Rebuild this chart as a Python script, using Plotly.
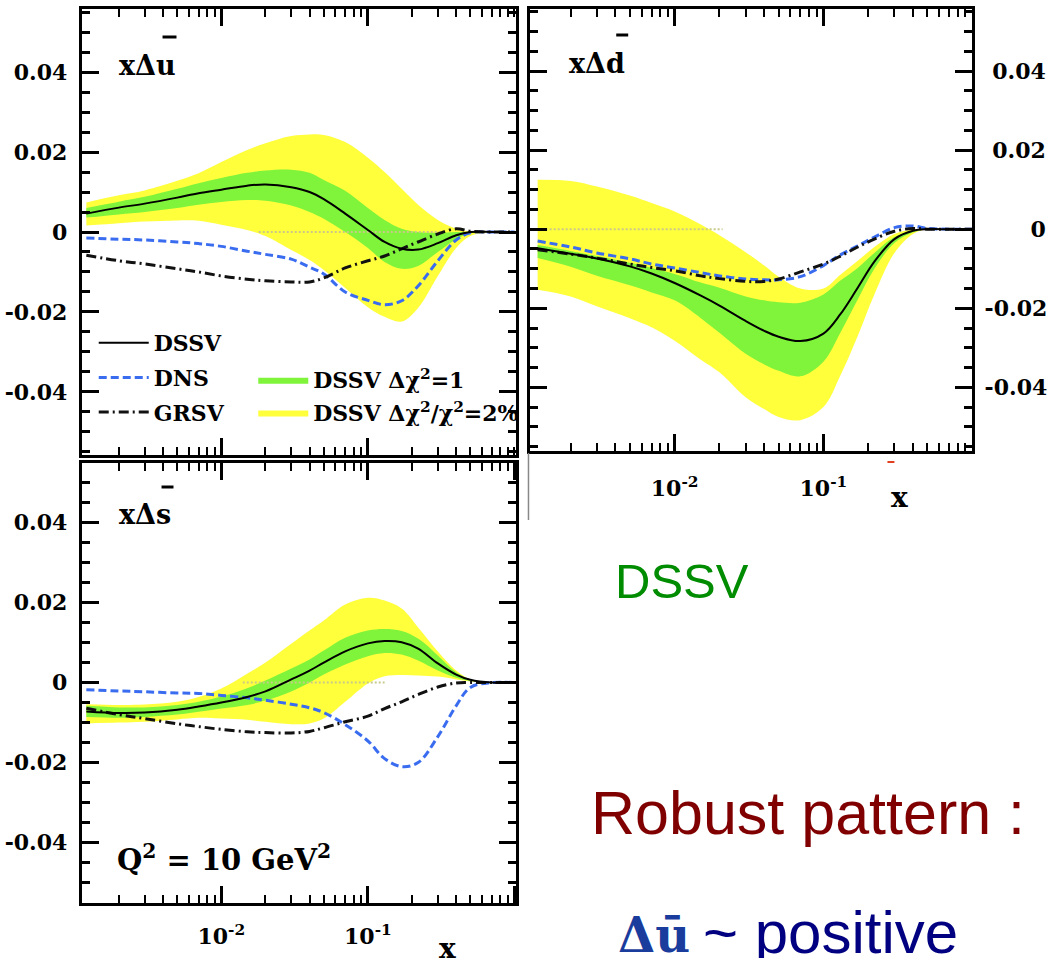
import plotly.graph_objects as go

# ---------------- data ----------------
X = [0.0012, 0.002, 0.003, 0.005, 0.007, 0.01, 0.015, 0.02, 0.03, 0.04, 0.05,
     0.07, 0.1, 0.13, 0.17, 0.22, 0.3, 0.4, 0.5, 0.7, 1.0]

# x Delta u-bar (top left)
tl_dssv = [0.0046, 0.0061, 0.0071, 0.0086, 0.0097, 0.0106, 0.0116, 0.0119, 0.0112, 0.0100, 0.0082,
           0.0046, 0.0005, -0.0025, -0.0042, -0.0044, -0.0028, -0.0008, 0, 0, 0]
tl_g_hi = [0.0060, 0.0076, 0.0088, 0.0108, 0.0122, 0.0135, 0.0148, 0.0154, 0.0156, 0.0148, 0.0130,
           0.0103, 0.0060, 0.0030, 0.0008, 0.0000, -0.0002, 0, 0, 0, 0]
tl_g_lo = [0.0036, 0.0044, 0.0050, 0.0060, 0.0068, 0.0075, 0.0080, 0.0078, 0.0066, 0.0050, 0.0033,
           0.0000, -0.0040, -0.0075, -0.0092, -0.0085, -0.0050, -0.0018, -0.0003, 0, 0]
tl_y_hi = [0.0074, 0.0092, 0.0104, 0.0128, 0.0147, 0.0175, 0.0205, 0.0222, 0.0240, 0.0244, 0.0243,
           0.0225, 0.0186, 0.0150, 0.0108, 0.0068, 0.0030, 0.0008, 0.0001, 0, 0]
tl_y_lo = [0.0016, 0.0022, 0.0026, 0.0029, 0.0028, 0.0018, 0.0005, -0.0010, -0.0045, -0.0070, -0.0095,
           -0.0140, -0.0188, -0.0212, -0.0224, -0.0190, -0.0110, -0.0040, -0.0010, 0, 0]
tl_dns = [-0.0015, -0.0018, -0.0020, -0.0025, -0.0029, -0.0036, -0.0048, -0.0056, -0.0068, -0.0088, -0.0105,
          -0.0150, -0.0171, -0.0182, -0.0172, -0.0135, -0.0072, -0.0020, -0.0002, 0, 0]
tl_grsv = [-0.0058, -0.0072, -0.0080, -0.0092, -0.0100, -0.0110, -0.0118, -0.0122, -0.0125, -0.0125, -0.0115,
           -0.0090, -0.0072, -0.0060, -0.0042, -0.0025, -0.0005, 0.0008, 0.0002, 0, 0]

# x Delta d-bar (top right)
tr_dssv = [-0.0048, -0.0062, -0.0074, -0.0094, -0.0112, -0.0136, -0.0168, -0.0193, -0.0232, -0.0257, -0.0272,
           -0.0283, -0.0264, -0.0215, -0.0148, -0.0082, -0.0025, -0.0004, 0, 0, 0]
tr_g_hi = [-0.0040, -0.0055, -0.0068, -0.0085, -0.0098, -0.0113, -0.0135, -0.0148, -0.0170, -0.0180, -0.0185,
           -0.0186, -0.0165, -0.0130, -0.0098, -0.0060, -0.0020, -0.0003, 0, 0, 0]
tr_g_lo = [-0.0073, -0.0095, -0.0118, -0.0142, -0.0160, -0.0180, -0.0225, -0.0262, -0.0315, -0.0342, -0.0358,
           -0.0372, -0.0335, -0.0262, -0.0178, -0.0100, -0.0035, -0.0008, 0, 0, 0]
tr_y_hi = [0.0125, 0.0122, 0.0108, 0.0085, 0.0066, 0.0045, 0.0012, -0.0015, -0.0058, -0.0092, -0.0120,
           -0.0150, -0.0150, -0.0115, -0.0080, -0.0045, -0.0012, -0.0001, 0, 0, 0]
tr_y_lo = [-0.0153, -0.0170, -0.0195, -0.0225, -0.0248, -0.0282, -0.0330, -0.0362, -0.0425, -0.0455, -0.0475,
           -0.0483, -0.0450, -0.0370, -0.0270, -0.0165, -0.0060, -0.0012, 0, 0, 0]
tr_dns = [-0.0030, -0.0045, -0.0060, -0.0075, -0.0088, -0.0098, -0.0110, -0.0118, -0.0126, -0.0128, -0.0128,
          -0.0120, -0.0092, -0.0065, -0.0042, -0.0020, 0.0004, 0.0008, 0.0002, 0, 0]
tr_grsv = [-0.0052, -0.0063, -0.0073, -0.0088, -0.0097, -0.0105, -0.0118, -0.0125, -0.0132, -0.0132, -0.0126,
           -0.0108, -0.0088, -0.0068, -0.0045, -0.0025, -0.0005, 0.0002, 0, 0, 0]

# x Delta s-bar (bottom left)
bt_dssv = [-0.0072, -0.0076, -0.0075, -0.0068, -0.0060, -0.0050, -0.0036, -0.0022, 0.0008, 0.0030, 0.0050,
           0.0078, 0.0098, 0.0104, 0.0101, 0.0085, 0.0048, 0.0020, 0.0007, 0, 0]
bt_g_hi = [-0.0058, -0.0062, -0.0062, -0.0056, -0.0048, -0.0035, -0.0014, 0.0005, 0.0035, 0.0058, 0.0080,
           0.0112, 0.0130, 0.0134, 0.0129, 0.0110, 0.0068, 0.0026, 0.0008, 0, 0]
bt_g_lo = [-0.0086, -0.0088, -0.0086, -0.0080, -0.0073, -0.0065, -0.0056, -0.0045, -0.0022, 0.0000, 0.0020,
           0.0045, 0.0066, 0.0074, 0.0070, 0.0055, 0.0030, 0.0012, 0.0004, 0, 0]
bt_y_hi = [-0.0054, -0.0056, -0.0055, -0.0048, -0.0036, -0.0015, 0.0022, 0.0050, 0.0097, 0.0130, 0.0155,
           0.0195, 0.0212, 0.0205, 0.0185, 0.0138, 0.0078, 0.0030, 0.0008, 0, 0]
bt_y_lo = [-0.0102, -0.0100, -0.0098, -0.0092, -0.0088, -0.0090, -0.0093, -0.0098, -0.0104, -0.0102, -0.0090,
           -0.0048, -0.0002, 0.0016, 0.0019, 0.0018, 0.0015, 0.0008, 0.0003, 0, 0]
bt_dns = [-0.0018, -0.0021, -0.0023, -0.0026, -0.0027, -0.0032, -0.0038, -0.0044, -0.0054, -0.0063, -0.0075,
          -0.0105, -0.0146, -0.0190, -0.0210, -0.0200, -0.0135, -0.0058, -0.0012, 0, 0]
bt_grsv = [-0.0064, -0.0080, -0.0090, -0.0103, -0.0110, -0.0117, -0.0123, -0.0125, -0.0126, -0.0122, -0.0113,
           -0.0098, -0.0084, -0.0065, -0.0048, -0.0030, -0.0011, -0.0001, 0, 0, 0]

# faint dotted zero-line segments seen inside the yellow bands
tl_zero_x = [0.018, 0.32]
tr_zero_x = [0.0012, 0.021]
bt_zero_x = [0.014, 0.13]
zero_y = [0, 0]

y_tickvals = [-0.04, -0.02, 0, 0.02, 0.04]
y_ticktext = ["-0.04", "-0.02", "0", "0.02", "0.04"]
# right-hand labels padded so that they end at the same place (right aligned look)
y_ticktext_right = ["-0.04", "-0.02", "\u2007\u2007\u2008\u20080", "\u20080.02", "\u20080.04"]
x_tickvals = [0.01, 0.1, 1.0]
x_ticktext = ["10<sup>-2</sup>", "10<sup>-1</sup>", ""]

YELLOW = "#ffff3c"
GREEN = "#7ff43a"
BLUE = "#3a6cf0"

W, H = 1047, 958


def px(x):
    return x / W


def py(y):
    return 1 - y / H


fig = go.Figure()

panels = [
    ("x", "y", tl_dssv, tl_g_lo, tl_g_hi, tl_y_lo, tl_y_hi, tl_dns, tl_grsv, tl_zero_x, True),
    ("x2", "y2", tr_dssv, tr_g_lo, tr_g_hi, tr_y_lo, tr_y_hi, tr_dns, tr_grsv, tr_zero_x, False),
    ("x3", "y3", bt_dssv, bt_g_lo, bt_g_hi, bt_y_lo, bt_y_hi, bt_dns, bt_grsv, bt_zero_x, False),
]

for xa, ya, dssv, glo, ghi, ylo, yhi, dns, grsv, zx, leg in panels:
    fig.add_trace(go.Scatter(x=X, y=ylo, xaxis=xa, yaxis=ya, mode="lines", line=dict(width=0, shape="spline"),
                             showlegend=False, hoverinfo="skip"))
    fig.add_trace(go.Scatter(x=X, y=yhi, xaxis=xa, yaxis=ya, mode="lines", line=dict(width=0, shape="spline"),
                             fill="tonexty", fillcolor=YELLOW, name="DSSV Δχ<sup>2</sup>/χ<sup>2</sup>=2%",
                             showlegend=leg, legend="legend2", legendrank=2, legendgroup="band2"))
    fig.add_trace(go.Scatter(x=X, y=glo, xaxis=xa, yaxis=ya, mode="lines", line=dict(width=0, shape="spline"),
                             showlegend=False, hoverinfo="skip"))
    fig.add_trace(go.Scatter(x=X, y=ghi, xaxis=xa, yaxis=ya, mode="lines", line=dict(width=0, shape="spline"),
                             fill="tonexty", fillcolor=GREEN, name="DSSV Δχ<sup>2</sup>=1",
                             showlegend=leg, legend="legend2", legendrank=1, legendgroup="band1"))
    fig.add_trace(go.Scatter(x=zx, y=zero_y, xaxis=xa, yaxis=ya, mode="lines",
                             line=dict(color="#c9c98a", width=2, dash="2px,2px"), showlegend=False,
                             hoverinfo="skip"))
    fig.add_trace(go.Scatter(x=X, y=dns, xaxis=xa, yaxis=ya, mode="lines", name="DNS",
                             line=dict(color=BLUE, width=3, dash="8px,4px", shape="spline"),
                             showlegend=leg, legend="legend", legendrank=2, legendgroup="dns"))
    fig.add_trace(go.Scatter(x=X, y=grsv, xaxis=xa, yaxis=ya, mode="lines", name="GRSV",
                             line=dict(color="#111111", width=3, dash="10px,4px,2px,4px", shape="spline"),
                             showlegend=leg, legend="legend", legendrank=3, legendgroup="grsv"))
    fig.add_trace(go.Scatter(x=X, y=dssv, xaxis=xa, yaxis=ya, mode="lines", name="DSSV",
                             line=dict(color="black", width=2, shape="spline"),
                             showlegend=leg, legend="legend", legendrank=1, legendgroup="dssv"))

tickfont = dict(family="DejaVu Serif", size=22, color="black", weight="bold")


def xax(domain, rng, anchor, labels, standoff):
    return dict(domain=domain, type="log", range=rng, anchor=anchor,
                showline=True, linecolor="black", linewidth=3, mirror="allticks",
                ticks="inside", ticklen=17, tickwidth=3, tickcolor="black",
                tickmode="array", tickvals=x_tickvals, ticktext=x_ticktext,
                showticklabels=labels, tickfont=tickfont, ticklabelstandoff=standoff,
                minor=dict(ticks="inside", ticklen=8, tickwidth=2, tickcolor="black", dtick="D1",
                           showgrid=False),
                showgrid=False, zeroline=False)


def yax(domain, rng, anchor, side, text, standoff):
    return dict(domain=domain, range=rng, anchor=anchor, side=side,
                showline=True, linecolor="black", linewidth=3, mirror="allticks",
                ticks="inside", ticklen=17, tickwidth=3, tickcolor="black",
                tickmode="array", tickvals=y_tickvals, ticktext=text,
                tickfont=tickfont, ticklabelstandoff=standoff,
                minor=dict(ticks="inside", ticklen=8, tickwidth=2.5, tickcolor="black",
                           tickmode="linear", tick0=0, dtick=0.005, showgrid=False),
                showgrid=False, zeroline=False)


def ann(text, x, y, font, xanchor="left"):
    return dict(text=text, x=px(x), y=py(y), xref="paper", yref="paper", xanchor=xanchor,
                yanchor="middle", font=font, showarrow=False)


ann_font = dict(family="DejaVu Serif", size=27, color="black", weight="bold")
xfont = dict(family="DejaVu Serif", size=28, color="black", weight="bold")
annotations = [
    ann("xΔu", 117, 65, ann_font),
    ann("xΔd", 569, 63, ann_font),
    ann("xΔs", 117, 514, ann_font),
    ann("Q<sup>2</sup> = 10 GeV<sup>2</sup>", 115, 858,
        dict(family="DejaVu Serif", size=29, color="black", weight="bold")),
    ann("x", 902, 498, xfont, "center"),
    ann("x", 449, 948, xfont, "center"),
    ann("DSSV", 615, 581, dict(family="Liberation Sans", size=49, color="#008c00")),
    ann("Robust pattern :", 591, 813, dict(family="Liberation Sans", size=61, color="#800000")),
    ann("Δū", 618, 935, dict(family="DejaVu Serif", size=48, color="#1a3c9c", weight="bold")),
    ann("~ positive", 703, 932, dict(family="Liberation Sans", size=60, color="#000080")),
]

shapes = [
    # bars over the quark symbols
    dict(type="line", xref="paper", yref="paper", x0=px(163), x1=px(177), y0=py(37), y1=py(37),
         line=dict(color="black", width=3)),
    dict(type="line", xref="paper", yref="paper", x0=px(618), x1=px(630), y0=py(35), y1=py(35),
         line=dict(color="black", width=3)),
    dict(type="line", xref="paper", yref="paper", x0=px(162), x1=px(174), y0=py(487), y1=py(487),
         line=dict(color="black", width=3)),
    # thin gray border fragment and small red mark of the original image
    dict(type="line", xref="paper", yref="paper", x0=px(530), x1=px(530), y0=py(453), y1=py(520),
         line=dict(color="#888888", width=1.5)),
    dict(type="line", xref="paper", yref="paper", x0=px(890), x1=px(897), y0=py(462), y1=py(462),
         line=dict(color="#e04020", width=2)),
]

leg_font = dict(family="DejaVu Serif", size=22, color="black", weight="bold")

fig.update_layout(
    width=W, height=H, margin=dict(l=0, r=0, t=0, b=0),
    paper_bgcolor="white", plot_bgcolor="white",
    xaxis=xax([px(82), px(517)], [-2.952, 0.007], "y", False, 12),
    yaxis=yax([py(455), py(9)], [-0.0558, 0.0558], "x", "left", y_ticktext, 7),
    xaxis2=xax([px(532), px(975)], [-2.969, 0.0], "y2", True, 16),
    yaxis2=yax([py(451), py(9)], [-0.0561, 0.0557], "x2", "right", y_ticktext_right, 5),
    xaxis3=xax([px(82), px(517)], [-2.952, 0.007], "y3", True, 12),
    yaxis3=yax([py(903), py(463)], [-0.0551, 0.0549], "x3", "left", y_ticktext, 7),
    legend=dict(x=px(94), y=py(322), xanchor="left", yanchor="top", bgcolor="rgba(0,0,0,0)",
                font=leg_font, tracegroupgap=3, itemwidth=50, traceorder="grouped"),
    legend2=dict(x=px(254), y=py(359), xanchor="left", yanchor="top", bgcolor="rgba(0,0,0,0)",
                 font=leg_font, tracegroupgap=1, itemwidth=50, traceorder="grouped"),
    annotations=annotations, shapes=shapes, showlegend=True,
)

fig.write_html("out.html", config={"displayModeBar": False},
               post_script="document.body.style.margin='0';document.body.style.overflow='hidden';")
